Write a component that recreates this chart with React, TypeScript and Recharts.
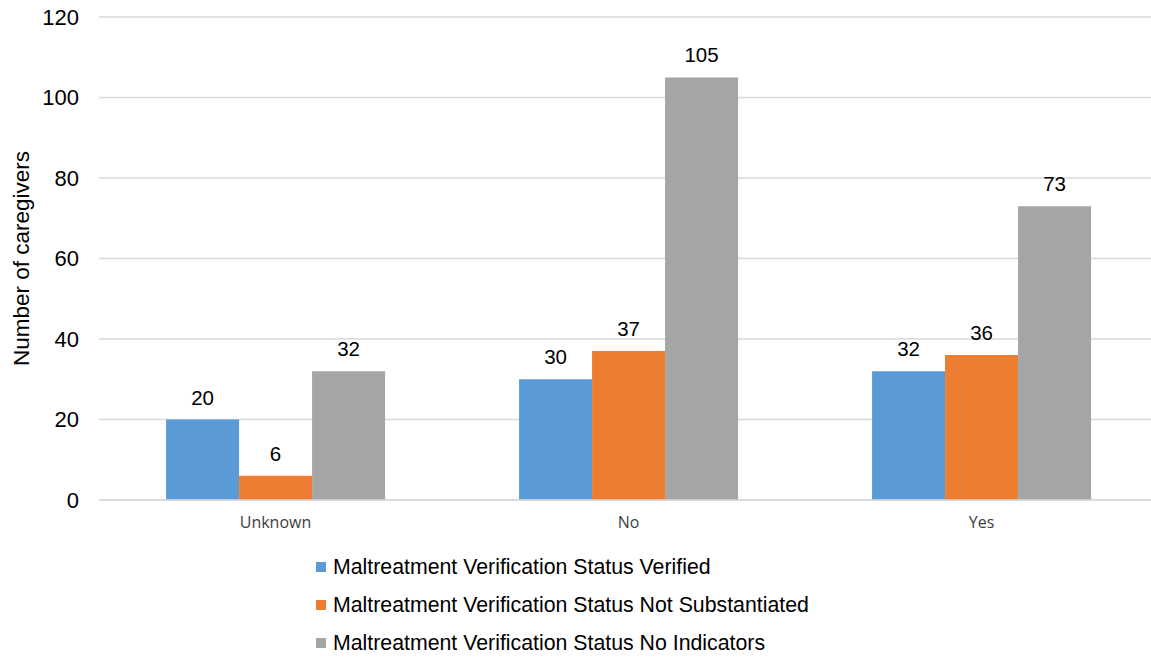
import React from 'react';
import { BarChart, Bar, XAxis, YAxis, CartesianGrid, Legend, LabelList } from 'recharts';

const categories = ['Unknown', 'No', 'Yes'];
const verified = [20, 30, 32];
const notSubstantiated = [6, 37, 36];
const noIndicators = [32, 105, 73];
const yTicks = [0, 20, 40, 60, 80, 100, 120];

const seriesNames = [
  'Maltreatment Verification Status Verified',
  'Maltreatment Verification Status Not Substantiated',
  'Maltreatment Verification Status No Indicators',
];
const colors = ['#5B9BD5', '#ED7D31', '#A5A5A5'];

const data = categories.map((c, i) => ({
  cat: c,
  v: verified[i],
  n: notSubstantiated[i],
  g: noIndicators[i],
}));

const FONT = '"Liberation Sans", Arial, sans-serif';

const LegendContent = () => (
  <div style={{ fontFamily: FONT, fontSize: 21.3, color: '#000' }}>
    {seriesNames.map((name, i) => (
      <div key={name} style={{ height: 38, display: 'flex', alignItems: 'center', whiteSpace: 'nowrap' }}>
        <span style={{ display: 'inline-block', width: 10, height: 10, background: colors[i], marginRight: 7 }} />
        <span>{name}</span>
      </div>
    ))}
  </div>
);

const labelStyle = { fontFamily: FONT, fontSize: 20.5, fill: '#000' };

export default function App() {
  return (
    <div style={{ position: 'absolute', left: 0, top: 0, width: 1151, height: 658, overflow: 'hidden', background: '#fff' }}>
      <BarChart
        width={1158}
        height={658}
        data={data}
        margin={{ top: 17, right: 0, bottom: 14, left: 0 }}
        barCategoryGap="19%"
        barGap={0}
      >
        <CartesianGrid vertical={false} stroke="#D9D9D9" strokeWidth={1.5} />
        <XAxis
          dataKey="cat"
          axisLine={{ stroke: '#D9D9D9', strokeWidth: 1.5 }}
          tickLine={false}
          tickSize={0}
          tickMargin={17}
          height={30}
          tick={{ fontFamily: '"Open Sans", sans-serif', fontSize: 16, fill: '#404040' }}
        />
        <YAxis
          domain={[0, 120]}
          ticks={yTicks}
          width={99}
          axisLine={false}
          tickLine={false}
          tickSize={0}
          tickMargin={20}
          tick={{ fontFamily: FONT, fontSize: 22, fill: '#000' }}
          label={{
            value: 'Number of caregivers',
            angle: -90,
            position: 'insideLeft',
            offset: 21,
            style: { textAnchor: 'middle', fontFamily: FONT, fontSize: 22.5, fill: '#000' },
          }}
        />
        <Legend
          verticalAlign="bottom"
          layout="vertical"
          height={114}
          content={<LegendContent />}
          wrapperStyle={{ top: 548, left: 316, width: 600, bottom: 'auto' }}
        />
        <Bar dataKey="v" name={seriesNames[0]} fill={colors[0]} isAnimationActive={false}>
          <LabelList dataKey="v" position="top" offset={15} style={labelStyle} />
        </Bar>
        <Bar dataKey="n" name={seriesNames[1]} fill={colors[1]} isAnimationActive={false}>
          <LabelList dataKey="n" position="top" offset={15} style={labelStyle} />
        </Bar>
        <Bar dataKey="g" name={seriesNames[2]} fill={colors[2]} isAnimationActive={false}>
          <LabelList dataKey="g" position="top" offset={15} style={labelStyle} />
        </Bar>
      </BarChart>
    </div>
  );
}
